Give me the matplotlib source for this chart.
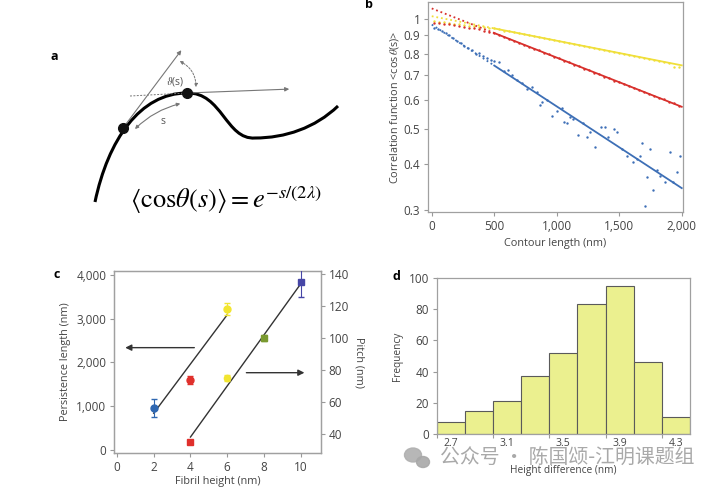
import matplotlib.pyplot as plt
import numpy as np
from matplotlib.path import Path
from matplotlib.patches import PathPatch, Ellipse, FancyArrowPatch

plt.rcParams['font.family'] = ['Open Sans', 'DejaVu Sans']
plt.rcParams['mathtext.fontset'] = 'stix'

# ---------------- data ----------------
# panel b: correlation function vs contour length
contour_grid = np.arange(20, 2000, 40)
yellow_corr = [0.985, 0.981, 0.976, 0.973, 0.968, 0.965, 0.960, 0.957, 0.953, 0.950,
               0.947, 0.943, 0.940, 0.935, 0.927, 0.924, 0.917, 0.912, 0.905, 0.901,
               0.894, 0.890, 0.884, 0.879, 0.872, 0.868, 0.861, 0.857, 0.852, 0.845,
               0.842, 0.835, 0.831, 0.824, 0.821, 0.814, 0.811, 0.804, 0.801, 0.794,
               0.791, 0.784, 0.781, 0.775, 0.772, 0.765, 0.762, 0.755, 0.738, 0.736]
red_corr = [0.975, 0.972, 0.968, 0.965, 0.960, 0.955, 0.950, 0.945, 0.940, 0.934,
            0.927, 0.920, 0.912, 0.903, 0.890, 0.881, 0.868, 0.859, 0.847, 0.838,
            0.826, 0.818, 0.806, 0.798, 0.786, 0.778, 0.767, 0.759, 0.748, 0.741,
            0.730, 0.723, 0.712, 0.705, 0.694, 0.688, 0.677, 0.671, 0.661, 0.655,
            0.645, 0.639, 0.629, 0.623, 0.614, 0.607, 0.601, 0.592, 0.586, 0.576]
blue_x = [20, 50, 80, 110, 140, 170, 200, 230, 260, 290, 320, 350, 380, 410, 440, 470,
          500, 540, 580, 613, 640, 680, 720, 760, 800, 840, 867, 880, 920, 960, 1000,
          1040, 1059, 1085, 1107, 1133, 1173, 1213, 1240, 1267, 1307, 1352, 1387, 1413,
          1459, 1480, 1520, 1560, 1613, 1640, 1667, 1680, 1707, 1720, 1747, 1773, 1800,
          1827, 1867, 1907, 1933, 1960, 1987]
blue_corr = [0.940, 0.935, 0.925, 0.912, 0.900, 0.885, 0.870, 0.860, 0.842, 0.830,
             0.818, 0.800, 0.805, 0.790, 0.780, 0.772, 0.764, 0.760, 0.720, 0.722,
             0.700, 0.680, 0.665, 0.640, 0.650, 0.628, 0.580, 0.593, 0.600, 0.540,
             0.560, 0.570, 0.520, 0.517, 0.537, 0.530, 0.480, 0.517, 0.475, 0.490,
             0.446, 0.506, 0.505, 0.475, 0.500, 0.490, 0.440, 0.420, 0.405, 0.412,
             0.420, 0.456, 0.308, 0.370, 0.440, 0.340, 0.385, 0.372, 0.358, 0.432,
             0.358, 0.380, 0.420]
# fitted lines: value at 0, 500 and 2000 nm
fit_x = [0, 500, 2000]
yellow_fit = [1.015, 0.940, 0.745]
red_fit = [1.066, 0.913, 0.574]
blue_fit = [0.963, 0.744, 0.344]

# panel c
pl_height = [2, 4, 6]
pl_value = [960, 1600, 3230]
pl_err = [200, 100, 140]
pl_colors = ['#2f67b1', '#e0302c', '#f2e530']
pitch_height = [4, 6, 8, 10]
pitch_value = [35, 75, 100, 135]
pitch_err = [0, 2, 2, 9]
pitch_colors = ['#e0302c', '#f2e530', '#7a9a30', '#4646a6']
pitch_markers = ['s', 'o', 's', 's']
pl_fit_x, pl_fit_y = [2, 6], [840, 3090]
pitch_fit_x, pitch_fit_y = [4, 10], [38, 134]

# panel d
height_bins = [2.7, 2.9, 3.1, 3.3, 3.5, 3.7, 3.9, 4.1, 4.3]
frequency = [8, 15, 21, 37, 52, 83, 95, 46, 11]

blue, red, yellow = '#3d6fb6', '#d8302c', '#f0df3a'
tick_col, lab_col, spine_col = '#999999', '#444444', '#a0a0a0'

fig = plt.figure(figsize=(7.18, 4.9), dpi=100)


def style(ax):
    for s in ax.spines.values():
        s.set_color(spine_col)
        s.set_linewidth(0.9)
    ax.tick_params(colors=tick_col, labelcolor=lab_col, labelsize=8.5,
                   length=3, width=0.8, direction='out', pad=2.5)


# ---------------- panel a (schematic) ----------------
axa = fig.add_axes([0, 0.5, 360 / 718, 0.5])
axa.set_xlim(0, 360)
axa.set_ylim(245, 0)
axa.axis('off')

curve_pts = [(95, 202), (108, 140), (140, 93), (187, 93),
             (222, 92), (226, 140), (255, 138),
             (285, 138), (315, 128), (338, 106)]
curve_codes = [Path.MOVETO] + [Path.CURVE4] * 9
axa.add_patch(PathPatch(Path(curve_pts, curve_codes), fill=False, lw=2.2, color='black'))

dots = [(123, 128), (187, 93)]
for d in dots:
    axa.plot(*d, 'o', color='#111111', ms=7, zorder=5)

gray = '#777777'
axa.annotate('', xy=(183, 48), xytext=(123, 128),
             arrowprops=dict(arrowstyle='-|>', color=gray, lw=0.8, mutation_scale=6))
axa.annotate('', xy=(292, 89), xytext=(187, 93),
             arrowprops=dict(arrowstyle='-|>', color=gray, lw=0.8, mutation_scale=6))
axa.plot([130, 187], [96, 93], ls=(0, (2, 1.5)), color=gray, lw=0.7)
axa.add_patch(FancyArrowPatch((177, 60), (196, 90), connectionstyle='arc3,rad=-0.35',
                              arrowstyle='<|-|>', mutation_scale=5, color=gray,
                              lw=0.7, ls=(0, (2, 1.5))))
axa.add_patch(FancyArrowPatch((133, 131), (183, 103), connectionstyle='arc3,rad=-0.15',
                              arrowstyle='<|-|>', mutation_scale=5, color=gray, lw=0.8))
axa.text(175, 82, r'$\vartheta$(s)', fontsize=7.5, color='#555555', ha='center', va='center')
axa.text(163, 121, 's', fontsize=7.5, color='#555555', ha='center', va='center')
axa.text(226, 200, r'$\langle\mathrm{cos}\theta(s)\rangle = e^{-s/(2\lambda)}$',
         fontsize=19, ha='center', va='center', color='black')
axa.text(54, 57, 'a', fontsize=9, fontweight='bold', ha='center', va='center')

# ---------------- panel b ----------------
axb = fig.add_axes([428 / 718, 1 - 212 / 490, 255 / 718, 210 / 490])
style(axb)
axb.set_yscale('log')
axb.scatter(contour_grid, yellow_corr, s=3, color=yellow, lw=0)
axb.scatter(contour_grid, red_corr, s=3, color=red, lw=0)
axb.scatter(blue_x, blue_corr, s=3, color=blue, lw=0)
for fit, col in [(yellow_fit, yellow), (red_fit, red), (blue_fit, blue)]:
    axb.plot(fit_x[:2], fit[:2], color=col, lw=1.3, ls=(0, (1, 1.6)))
    axb.plot(fit_x[1:], fit[1:], color=col, lw=1.3)
axb.set_xlim(-30, 2010)
axb.set_ylim(0.296, 1.11)
yt = [0.3, 0.4, 0.5, 0.6, 0.7, 0.8, 0.9, 1]
axb.set_yticks(yt)
axb.set_yticklabels(['0.3', '0.4', '0.5', '0.6', '0.7', '0.8', '0.9', '1'])
axb.minorticks_off()
axb.set_xticks([0, 500, 1000, 1500, 2000])
axb.set_xticklabels(['0', '500', '1,000', '1,500', '2,000'])
axb.set_xlabel('Contour length (nm)', fontsize=7.8, color=lab_col, labelpad=4)
axb.set_ylabel(r'Correlation function <cos$\,\theta$(s)>', fontsize=7.8, color=lab_col, labelpad=2)
fig.text(365 / 718, 1 - 5 / 490, 'b', fontsize=9, fontweight='bold', va='center')

# ---------------- panel c ----------------
axc = fig.add_axes([114 / 718, 1 - 453 / 490, 207 / 718, 182 / 490])
style(axc)
axc2 = axc.twinx()
style(axc2)
for h, v, e, c in zip(pl_height, pl_value, pl_err, pl_colors):
    axc.errorbar(h, v, yerr=e, fmt='o', ms=5, color=c, ecolor=c, elinewidth=0.8,
                 capsize=2, zorder=3)
for h, v, e, c, m in zip(pitch_height, pitch_value, pitch_err, pitch_colors, pitch_markers):
    axc2.errorbar(h, v, yerr=e, fmt=m, ms=4.5 if m == 'o' else 3.8, color=c, ecolor=c,
                  elinewidth=0.8, capsize=2, zorder=3)
axc.plot(pl_fit_x, pl_fit_y, color='#333333', lw=1)
axc2.plot(pitch_fit_x, pitch_fit_y, color='#333333', lw=1)
axc.annotate('', xy=(0.3, 2338), xytext=(4.36, 2338),
             arrowprops=dict(arrowstyle='-|>', color='#333333', lw=1, mutation_scale=9))
axc2.annotate('', xy=(10.35, 78.3), xytext=(6.89, 78.3),
              arrowprops=dict(arrowstyle='-|>', color='#333333', lw=1, mutation_scale=9))
axc.set_xlim(-0.16, 11.1)
axc.set_ylim(-70, 4090)
axc2.set_ylim(28, 142)
axc.set_xticks([0, 2, 4, 6, 8, 10])
axc.set_yticks([0, 1000, 2000, 3000, 4000])
axc.set_yticklabels(['0', '1,000', '2,000', '3,000', '4,000'])
axc2.set_yticks([40, 60, 80, 100, 120, 140])
axc.set_xlabel('Fibril height (nm)', fontsize=7.8, color=lab_col, labelpad=2)
axc.set_ylabel('Persistence length (nm)', fontsize=7.8, color=lab_col, labelpad=4)
axc2.set_ylabel('Pitch (nm)', fontsize=7.8, color=lab_col, rotation=270, labelpad=11)
fig.text(57 / 718, 1 - 275 / 490, 'c', fontsize=9, fontweight='bold', va='center', ha='center')

# ---------------- panel d ----------------
axd = fig.add_axes([436.7 / 718, 1 - 434.3 / 490, 253.3 / 718, 156.6 / 490])
style(axd)
axd.bar(height_bins, frequency, width=0.2, color='#ebf08f', edgecolor='#5a5a5a', lw=0.8)
axd.set_xlim(2.6, 4.4)
axd.set_ylim(0, 100)
axd.set_yticks([0, 20, 40, 60, 80, 100])
axd.set_xticks([2.6, 3.0, 3.4, 3.8, 4.2])
axd.set_xticklabels([])
axd.set_xticks(height_bins[::2], minor=True)
axd.set_xticklabels(['2.7', '3.1', '3.5', '3.9', '4.3'], minor=True)
axd.tick_params(axis='x', which='minor', length=0, labelsize=7.5, labelcolor=lab_col, pad=3)
axd.set_xlabel('Height difference (nm)', fontsize=7.3, color=lab_col, labelpad=11)
axd.set_ylabel('Frequency', fontsize=7.3, color=lab_col, labelpad=4)
fig.text(396 / 718, 1 - 277 / 490, 'd', fontsize=9, fontweight='bold', va='center', ha='center')

# watermark
fig.patches.append(Ellipse((413 / 718, 1 - 455 / 490), 17 / 718, 14 / 490,
                           transform=fig.transFigure, color='#b0b0b0', alpha=0.9))
fig.patches.append(Ellipse((423 / 718, 1 - 462 / 490), 13 / 718, 11 / 490,
                           transform=fig.transFigure, color='#a8a8a8', alpha=0.9))
fig.text(440 / 718, 1 - 458 / 490, '公众号 · 陈国颂-江明课题组', fontsize=14.3,
         family=['Noto Sans CJK SC', 'DejaVu Sans'], color='#9a9a9a', alpha=0.85,
         va='center', ha='left')

fig.savefig('out.png', dpi=100)
